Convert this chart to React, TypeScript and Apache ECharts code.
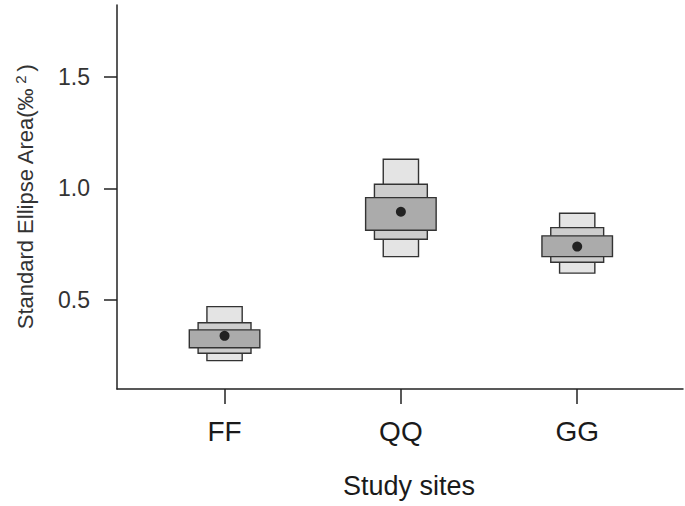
import React, { useEffect, useRef } from "react";
import * as echarts from "echarts";

const sites = ["FF", "QQ", "GG"];
const positions = [1, 2, 3];
const lo95 = [0.228, 0.694, 0.62];
const hi95 = [0.47, 1.13, 0.888];
const lo75 = [0.261, 0.772, 0.669];
const hi75 = [0.398, 1.018, 0.824];
const lo50 = [0.286, 0.812, 0.694];
const hi50 = [0.366, 0.958, 0.787];
const modes = [0.339, 0.895, 0.739];
const yTicks = [0.5, 1.0, 1.5];

const FONT = "'Liberation Sans', Arial, sans-serif";

function boxSeries(lo: number[], hi: number[], halfWidth: number, color: string) {
  return {
    type: "custom",
    clip: false,
    data: positions.map((p, i) => [p, lo[i], hi[i]]),
    encode: { x: 0, y: [1, 2] },
    renderItem: (params: any, api: any) => {
      const x = api.value(0);
      const a = api.coord([x - halfWidth, api.value(2)]);
      const b = api.coord([x + halfWidth, api.value(1)]);
      return {
        type: "rect",
        shape: { x: a[0], y: a[1], width: b[0] - a[0], height: b[1] - a[1] },
        style: { fill: color, stroke: "#333", lineWidth: 1.4 },
      };
    },
  };
}

export default function App() {
  const ref = useRef<HTMLDivElement>(null);
  useEffect(() => {
    if (!ref.current) return;
    const chart = echarts.init(ref.current, undefined, { renderer: "svg" });
    chart.setOption({
      animation: false,
      backgroundColor: "#ffffff",
      grid: { left: 117, top: 5, right: 2, bottom: 117, containLabel: false },
      xAxis: {
        type: "value",
        min: 0.39,
        max: 3.6,
        splitLine: { show: false },
        axisLine: { show: true, onZero: false, lineStyle: { color: "#222", width: 1.5 } },
        axisTick: { show: true, customValues: positions, length: 15, lineStyle: { color: "#222", width: 1.5 } },
        axisLabel: {
          customValues: positions,
          formatter: (v: number) => sites[Math.round(v) - 1] ?? "",
          fontSize: 28,
          color: "#1a1a1a",
          fontFamily: FONT,
          margin: 28,
        },
        name: "Study sites",
        nameLocation: "middle",
        nameGap: 83,
        nameTextStyle: { fontSize: 27, color: "#1a1a1a", fontFamily: FONT, padding: [0, 0, 0, 18] },
      },
      yAxis: {
        type: "value",
        min: 0.101,
        max: 1.821,
        splitLine: { show: false },
        axisLine: { show: true, onZero: false, lineStyle: { color: "#222", width: 1.5 } },
        axisTick: { show: true, customValues: yTicks, length: 13, lineStyle: { color: "#222", width: 1.5 } },
        axisLabel: {
          customValues: yTicks,
          formatter: (v: number) => v.toFixed(1),
          fontSize: 23,
          color: "#333",
          fontFamily: FONT,
          margin: 27,
        },
        name: "{a|Standard Ellipse Area(‰}{s|2}{a|)}",
        nameLocation: "middle",
        nameGap: 79,
        nameRotate: 90,
        nameTextStyle: {
          color: "#333",
          fontFamily: FONT,
          rich: {
            a: { fontSize: 22, color: "#333", fontFamily: FONT },
            s: { fontSize: 15, color: "#333", fontFamily: FONT, verticalAlign: "top", padding: [0, 4, 10, 4] },
          },
        },
      },
      series: [
        boxSeries(lo95, hi95, 0.1, "#e4e4e4"),
        boxSeries(lo75, hi75, 0.15, "#cdcdcd"),
        boxSeries(lo50, hi50, 0.2, "#ababab"),
        {
          type: "scatter",
          data: positions.map((p, i) => [p, modes[i]]),
          symbol: "circle",
          symbolSize: 10,
          itemStyle: { color: "#000" },
          z: 5,
        },
      ],
    });
    return () => chart.dispose();
  }, []);
  return (
    <div
      ref={ref}
      style={{ position: "fixed", left: 0, top: 0, width: 685, height: 506, background: "#fff" }}
    />
  );
}
